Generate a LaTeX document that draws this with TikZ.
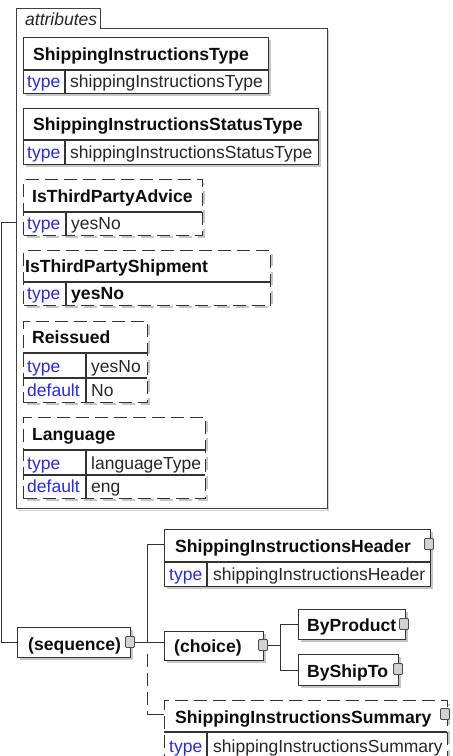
\documentclass[tikz,border=0pt]{standalone}
\usepackage{fontspec}
\setmainfont{Liberation Sans}
\definecolor{kblue}{RGB}{40,40,240}
\begin{document}
\begin{tikzpicture}[x=1pt,y=-1pt,
  bx/.style={draw=black!80, line width=1.2pt, fill=white, inner sep=0pt, anchor=north west},
  dbx/.style={bx, dash pattern=on 13pt off 6pt},
  ttl/.style={font=\fontsize{17.6}{20}\selectfont\bfseries, anchor=base west, inner sep=0pt, text=black!95},
  val/.style={font=\fontsize{17.5}{20}\selectfont, anchor=base west, inner sep=0pt, text=black!85},
  key/.style={val, text=kblue},
  ln/.style={draw=black!80, line width=1.2pt},
  cn/.style={draw=black!80, line width=1pt},
  sh/.style={fill=gray!45},
  dsh/.style={draw=gray!45, line width=3pt, dash pattern=on 13pt off 6pt},
  plug/.style={draw=black!70, fill=gray!35, line width=0.8pt, minimum width=9pt, minimum height=11pt, inner sep=0pt, rounded corners=1pt},
]
\useasboundingbox (0,0) rectangle (453,756);
\fill[white] (0,0) rectangle (453,756);

% ---------- attributes container ----------
\fill[gray!35] (18,510) rectangle (329,511);
\fill[gray!35] (327,30) rectangle (329,511);
\node[draw=none, inner sep=0pt, anchor=north west, minimum width=311pt, minimum height=480pt] (attr) at (16,28) {};
\draw[draw=black!75, line width=1pt] (16,508) -- (16,8) -- (100,8) -- (100,28) -- (327,28) -- (327,508) -- cycle;
\node[val, font=\fontsize{17.5}{20}\selectfont\itshape, text=black!85] (attrlbl) at (25,25) {attributes};

% Box 1
\fill[sh] (26,40) rectangle (271,96);
\node[bx, minimum width=245pt, minimum height=56pt] (b1) at (23,37) {};
\draw[ln] (23,70) -- (268,70);
\draw[ln] (65,70) -- (65,93);
\node[ttl] at (33,60.5) {ShippingInstructionsType};
\node[key] at (27,87.5) {type};
\node[val] at (70,87.5) {shippingInstructionsType};

% Box 2
\fill[sh] (26,111) rectangle (321,167);
\node[bx, minimum width=295pt, minimum height=56pt] (b2) at (23,108) {};
\draw[ln] (23,140) -- (318,140);
\draw[ln] (65,140) -- (65,164);
\node[ttl] at (33,130.5) {ShippingInstructionsStatusType};
\node[key] at (27,158.5) {type};
\node[val] at (70,158.5) {shippingInstructionsStatusType};

% Box 3
\draw[dsh] (27,236.5) -- (203.5,236.5) -- (203.5,183);
\node[dbx, minimum width=179pt, minimum height=56pt] (b3) at (23,179) {};
\draw[ln] (23,212) -- (202,212);
\draw[ln] (66,212) -- (66,235);
\node[ttl] at (32,202.5) {IsThirdPartyAdvice};
\node[key] at (27,229.5) {type};
\node[val] at (71,229.5) {yesNo};

% Box 4
\draw[dsh] (27,306.5) -- (271.5,306.5) -- (271.5,254);
\node[dbx, minimum width=247pt, minimum height=55pt] (b4) at (23,250) {};
\draw[ln] (23,282) -- (270,282);
\draw[ln] (66,282) -- (66,305);
\node[ttl] at (25,272.5) {IsThirdPartyShipment};
\node[key] at (27,299.5) {type};
\node[ttl] at (71,299.5) {yesNo};

% Box 5
\draw[dsh] (27,403.5) -- (148.5,403.5) -- (148.5,325);
\node[dbx, minimum width=124pt, minimum height=81pt] (b5) at (23,321) {};
\draw[ln] (23,353) -- (147,353);
\draw[ln] (23,378) -- (147,378);
\draw[ln] (86,353) -- (86,402);
\node[ttl] at (32,343.5) {Reissued};
\node[key] at (27,372.5) {type};
\node[val] at (91,372.5) {yesNo};
\node[key] at (27,396.5) {default};
\node[val] at (91,396.5) {No};

% Box 6
\draw[dsh] (27,499.5) -- (206.5,499.5) -- (206.5,421);
\node[dbx, minimum width=182pt, minimum height=81pt] (b6) at (23,417) {};
\draw[ln] (23,450) -- (205,450);
\draw[ln] (23,475) -- (205,475);
\draw[ln] (86,450) -- (86,498);
\node[ttl] at (32,440.5) {Language};
\node[key] at (27,469.5) {type};
\node[val] at (91,469.5) {languageType};
\node[key] at (27,492.5) {default};
\node[val] at (91,492.5) {eng};

% ---------- content model ----------
% sequence
\fill[sh] (20,630) rectangle (133,660);
\node[bx, minimum width=113pt, minimum height=30pt] (seq) at (17,627) {};
\node[ttl] at (28,650) {(sequence)};

% header
\fill[sh] (167,532) rectangle (433,589);
\node[bx, minimum width=266pt, minimum height=57pt] (hdr) at (164,529) {};
\draw[ln] (164,562) -- (430,562);
\draw[ln] (207,562) -- (207,586);
\node[ttl] at (175,552) {ShippingInstructionsHeader};
\node[key] at (169,580) {type};
\node[val] at (213,580) {shippingInstructionsHeader};

% choice
\fill[sh] (167,634) rectangle (266,663);
\node[bx, minimum width=99pt, minimum height=29pt] (ch) at (164,631) {};
\node[ttl] at (174,652) {(choice)};

% ByProduct
\fill[sh] (301,612) rectangle (408,642);
\node[bx, minimum width=107pt, minimum height=30pt] (bp) at (298,609) {};
\node[ttl] at (307,631) {ByProduct};

% ByShipTo
\fill[sh] (301,657) rectangle (401,688);
\node[bx, minimum width=100pt, minimum height=31pt] (bs) at (298,654) {};
\node[ttl] at (307,677) {ByShipTo};

% summary
\draw[dsh] (168,767) -- (448.5,767) -- (448.5,704);
\node[dbx, minimum width=283pt, minimum height=65pt] (sum) at (164,700) {};
\draw[ln] (164,732) -- (447,732);
\draw[ln] (207,732) -- (207,765);
\node[ttl] at (175,723) {ShippingInstructionsSummary};
\node[key] at (169,752) {type};
\node[val] at (213,752) {shippingInstructionsSummary};

% plugs
\node[plug] (seqp) at (130,642) {};
\node[plug] (hdrp) at (429,544) {};
\node[plug] (chp) at (263,645) {};
\node[plug] (bpp) at (404,624) {};
\node[plug] (bsp) at (398,669) {};
\node[plug] (sump) at (445,714) {};

% connectors
\coordinate (ak) at (1,222);
\coordinate (bus) at (147,0);
\coordinate (cbus) at (280,0);
\draw[cn] (ak -| attr.west) -- (ak) |- (seq.west);
\draw[cn] (seqp.east) -- (seqp.east -| bus);
\draw[cn] (hdrp -| hdr.west) -- (hdrp -| bus) -- (bus |- seqp);
\draw[cn] (bus |- seqp) -- (ch.west |- seqp);
\draw[cn, dash pattern=on 13pt off 6pt] (bus |- seqp) ++(0,12) -- (bus |- sump);
\draw[cn] (bus |- sump) -- (sump -| sum.west);
\draw[cn] (chp.east) -- (chp.east -| cbus);
\draw[cn] (bp.west) -- (bp.west -| cbus) -- (bs.west -| cbus) -- (bs.west);
\end{tikzpicture}
\end{document}
